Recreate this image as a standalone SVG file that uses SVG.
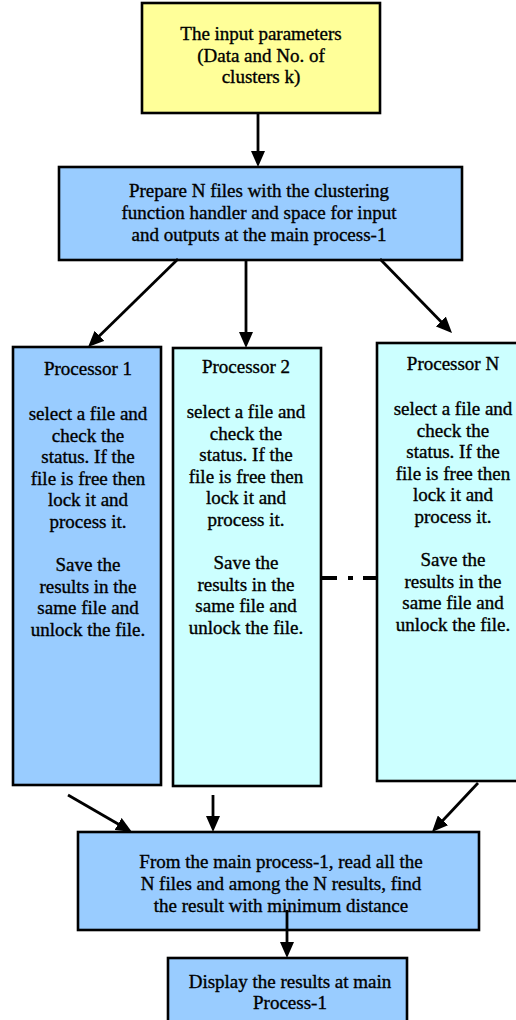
<svg xmlns="http://www.w3.org/2000/svg" width="516" height="1020" viewBox="0 0 516 1020">
<defs>
<style>
.box{stroke:#000;stroke-width:2.6}
.yel{fill:#FFFF99}
.blue{fill:#99CCFF}
.cyan{fill:#CCFFFF}
text{font-size:19px;fill:#000;stroke:#000;stroke-width:0.35;text-anchor:middle}
.conn line{stroke:#000;stroke-width:2.8;fill:none}
</style>
<marker id="ah" markerUnits="userSpaceOnUse" markerWidth="16" markerHeight="14" refX="6" refY="7" orient="auto">
<path d="M0,0 L16,7 L0,14 z" fill="#000"/>
</marker>
</defs>
<rect width="516" height="1020" fill="#fff"/>
<g font-family="'Liberation Serif', 'Times New Roman', Tinos, 'DejaVu Serif', serif">
<g id="input">
<rect class="box yel" x="142" y="3" width="238" height="110"/>
<text x="261" y="40">The input parameters</text>
<text x="261" y="62">(Data and No. of</text>
<text x="261" y="83">clusters k)</text>
</g>
<g id="prepare">
<rect class="box blue" x="59" y="167" width="403" height="93"/>
<text x="259" y="197">Prepare N files with the clustering</text>
<text x="259" y="219">function handler and space for input</text>
<text x="259" y="241">and outputs at the main process-1</text>
</g>
<g id="proc1">
<rect class="box blue" x="13" y="347" width="148" height="438"/>
<text x="88" y="375">Processor 1</text>
<text x="88" y="420">select a file and</text>
<text x="88" y="441.6">check the</text>
<text x="88" y="463.2">status. If the</text>
<text x="88" y="484.8">file is free then</text>
<text x="88" y="506.4">lock it and</text>
<text x="88" y="528">process it.</text>
<text x="88" y="571.2">Save the</text>
<text x="88" y="592.8">results in the</text>
<text x="88" y="614.4">same file and</text>
<text x="88" y="636">unlock the file.</text>
</g>
<g id="proc2">
<rect class="box cyan" x="173" y="348" width="148" height="438"/>
<text x="246" y="373">Processor 2</text>
<text x="246" y="418">select a file and</text>
<text x="246" y="439.6">check the</text>
<text x="246" y="461.2">status. If the</text>
<text x="246" y="482.8">file is free then</text>
<text x="246" y="504.4">lock it and</text>
<text x="246" y="526">process it.</text>
<text x="246" y="569.2">Save the</text>
<text x="246" y="590.8">results in the</text>
<text x="246" y="612.4">same file and</text>
<text x="246" y="634">unlock the file.</text>
</g>
<g id="procN">
<rect class="box cyan" x="377" y="343" width="152" height="438"/>
<text x="453" y="370">Processor N</text>
<text x="453" y="415">select a file and</text>
<text x="453" y="436.6">check the</text>
<text x="453" y="458.2">status. If the</text>
<text x="453" y="479.8">file is free then</text>
<text x="453" y="501.4">lock it and</text>
<text x="453" y="523">process it.</text>
<text x="453" y="566.2">Save the</text>
<text x="453" y="587.8">results in the</text>
<text x="453" y="609.4">same file and</text>
<text x="453" y="631">unlock the file.</text>
</g>
<g id="collect">
<rect class="box blue" x="78" y="832" width="401" height="98"/>
<text x="281" y="868">From the main process-1, read all the</text>
<text x="281" y="890">N files and among the N results, find</text>
<text x="281" y="912">the result with minimum distance</text>
</g>
<g id="display">
<rect class="box blue" x="168" y="958" width="239" height="70"/>
<text x="290" y="988">Display the results at main</text>
<text x="290" y="1009">Process-1</text>
</g>
</g>
<g id="connectors" class="conn">
<line x1="258" y1="113" x2="258" y2="157" marker-end="url(#ah)"/>
<line x1="178" y1="259" x2="95.2" y2="340" marker-end="url(#ah)"/>
<line x1="246" y1="260" x2="246" y2="338" marker-end="url(#ah)"/>
<line x1="380" y1="259" x2="445" y2="325.8" marker-end="url(#ah)"/>
<line x1="68" y1="795" x2="123.3" y2="827" marker-end="url(#ah)"/>
<line x1="213" y1="795" x2="213" y2="822" marker-end="url(#ah)"/>
<line x1="478" y1="783" x2="438.8" y2="824.7" marker-end="url(#ah)"/>
<line x1="287" y1="910" x2="287" y2="948" marker-end="url(#ah)"/>
<line x1="322" y1="578" x2="377" y2="578" style="stroke-width:4;stroke-dasharray:15 11 5 10 14"/>
</g>
</svg>
